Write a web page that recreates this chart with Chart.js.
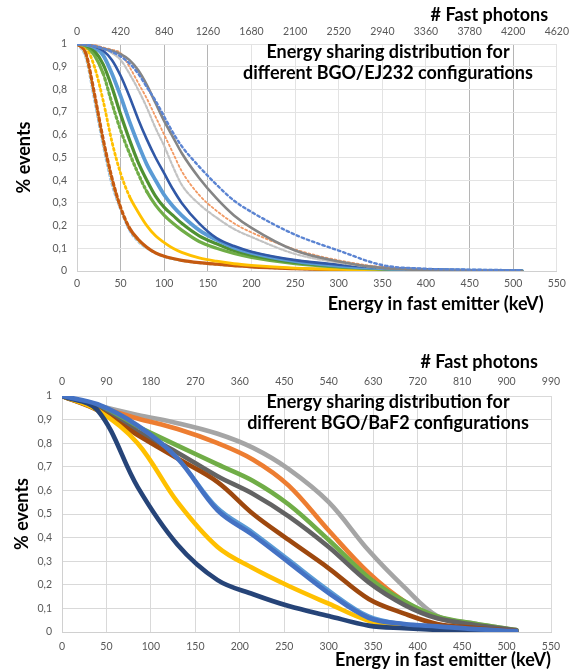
<!DOCTYPE html>
<html><head><meta charset="utf-8">
<script src="https://cdn.jsdelivr.net/npm/chart.js@4.4.1/dist/chart.umd.min.js"></script>
<style>
html,body{margin:0;padding:0;background:#fff;width:575px;height:671px;overflow:hidden;}
.box{position:absolute;left:0;width:575px;}
</style></head><body>
<div class="box" style="top:0;height:320px"><canvas id="c1"></canvas></div>
<div class="box" style="top:335px;height:336px"><canvas id="c2"></canvas></div>
<script>
// ---------- DATA: BGO/EJ232 (top chart) ----------
const ej232Title = ['Energy sharing distribution for', 'different BGO/EJ232 configurations'];
const ej232Energy = [0,10,20,30,40,50,60,70,80,90,100,110,120,140,160,180,200,250,300,350,400,450,510];
const ej232ScatterBlue   = [1,.94,.75,.55,.38,.27,.18,.13,.10,.078,.062,.052,.045,.035,.028,.022,.017,.009,.004,.002,.001,0,0];
const ej232ScatterYellow = [1,.95,.77,.57,.40,.28,.19,.135,.103,.08,.064,.054,.046,.036,.029,.023,.018,.01,.005,.002,.001,0,0];
const ej232Brown     = [1,.96,.78,.58,.41,.28,.19,.14,.105,.08,.065,.055,.047,.037,.030,.024,.018,.01,.005,.003,.001,0,0];
const ej232Yellow    = [1,.985,.90,.75,.57,.43,.33,.26,.20,.155,.125,.10,.082,.058,.043,.032,.025,.013,.007,.003,.001,0,0];
const ej232Green     = [1,.99,.95,.87,.74,.62,.52,.43,.35,.29,.245,.21,.18,.13,.10,.077,.06,.032,.017,.008,.003,.001,0];
const ej232DarkGreen = [1,.995,.97,.91,.81,.69,.58,.48,.40,.33,.28,.245,.21,.155,.12,.09,.07,.038,.02,.01,.004,.001,0];
const ej232LightBlue = [1,.997,.985,.95,.87,.77,.66,.56,.47,.40,.335,.285,.245,.18,.137,.103,.08,.043,.023,.012,.005,.002,0];
const ej232DarkBlue  = [1,.999,.99,.97,.93,.86,.77,.67,.58,.50,.43,.36,.30,.21,.145,.11,.085,.048,.028,.015,.007,.003,0];
const ej232GreyDot   = [1,.999,.995,.98,.96,.93,.87,.80,.72,.63,.55,.46,.38,.295,.235,.185,.15,.075,.037,.014,.005,.002,0];
const ej232OrangeDot = [1,.999,.995,.985,.975,.96,.90,.83,.76,.68,.60,.52,.44,.335,.265,.21,.17,.095,.047,.017,.006,.002,0];
const ej232Grey      = [1,.998,.99,.98,.97,.955,.93,.885,.82,.74,.66,.59,.52,.41,.32,.245,.19,.09,.042,.013,.004,.001,0];
const ej232BlueDot   = [1,.998,.99,.98,.965,.945,.915,.87,.81,.75,.68,.61,.55,.46,.38,.31,.26,.16,.09,.026,.01,.006,.003];

// ---------- DATA: BGO/BaF2 (bottom chart) ----------
const baf2Title = ['Energy sharing distribution for', 'different BGO/BaF2 configurations'];
const baf2Energy    = [0,40,85,130,175,215,255,300,345,385,422,465,511];
const baf2Blue      = [1,.965,.875,.735,.515,.41,.295,.165,.06,.034,.024,.012,.004];
const baf2LightBlue = [1,.965,.875,.74,.53,.425,.31,.18,.07,.036,.024,.012,.004];
const baf2Navy      = [1,.94,.615,.37,.22,.16,.11,.068,.027,.016,.009,.004,.001];
const baf2Yellow    = [1,.94,.80,.55,.36,.27,.195,.12,.048,.025,.011,.005,.002];
const baf2Brown     = [1,.94,.835,.735,.635,.50,.39,.27,.14,.078,.034,.017,.004];
const baf2DarkGrey  = [1,.945,.85,.76,.66,.585,.49,.36,.21,.115,.058,.03,.007];
const baf2Green     = [1,.955,.87,.79,.71,.64,.54,.39,.23,.13,.066,.035,.008];
const baf2Orange    = [1,.955,.905,.86,.80,.73,.62,.43,.25,.13,.06,.03,.007];
const baf2LightGrey = [1,.96,.92,.885,.84,.78,.69,.55,.345,.19,.068,.035,.008];

// ---------- TICK LABELS ----------
const yTickLabels = ['0','0,1','0,2','0,3','0,4','0,5','0,6','0,7','0,8','0,9','1'];
const energyTickLabels = ['0','50','100','150','200','250','300','350','400','450','500','550'];
const ej232PhotonTickLabels = ['0','420','840','1260','1680','2100','2520','2940','3360','3780','4200','4620'];
const baf2PhotonTickLabels = ['0','90','180','270','360','450','540','630','720','810','900','990'];
const yTitle = '% events';
const xTitle = 'Energy in fast emitter (keV)';
const x2Title = '# Fast photons';

// ---------- helpers ----------
Chart.defaults.font.family = 'Lato, "Open Sans", sans-serif';
function pts(E, V) { return E.map((e, i) => ({x: e, y: V[i]})); }
function steepDash(dash, thr) {
  return ctx => {
    const a = ctx.p0.parsed, b = ctx.p1.parsed;
    const s = Math.abs((b.y - a.y) / (b.x - a.x));
    return s > thr ? dash : undefined;
  };
}
const insideTitle = {
  id: 'insideTitle',
  afterDatasetsDraw(chart, args, o) {
    const ctx = chart.ctx;
    ctx.save();
    ctx.font = 'bold ' + o.size + 'px Lato, "Open Sans", sans-serif';
    ctx.fillStyle = '#000';
    ctx.textAlign = 'center';
    ctx.textBaseline = 'middle';
    o.lines.forEach((t, i) => ctx.fillText(t, o.x, o.y + i * o.lh));
    ctx.restore();
  }
};
const tickFont = {size: 10.5};
const tickColor = '#595959';
const titleFont = {size: 18, weight: 'bold'};

function makeOptions(L) {
  return {
    responsive: true, maintainAspectRatio: false, animation: false,
    layout: {padding: {left: 0, right: L.padRight, top: 0, bottom: 0}},
    elements: {point: {radius: 0}, line: {borderCapStyle: 'round', borderJoinStyle: 'round'}},
    plugins: {legend: {display: false}, tooltip: {enabled: false},
      insideTitle: {lines: L.title, x: L.tx, y: L.ty, lh: 21.5, size: 18}},
    scales: {
      x: {type: 'linear', position: 'bottom', min: 0, max: 550,
        ticks: {stepSize: 50, font: tickFont, color: tickColor, padding: L.xPad, maxRotation: 0,
          callback: (v, i) => energyTickLabels[i]},
        grid: {drawTicks: false, color: L.vGrid, lineWidth: 1},
        border: {color: '#d0d0d0'},
        title: {display: true, text: xTitle + L.xTitleTail, align: 'end', font: titleFont, color: '#000',
          padding: {top: 0, bottom: L.xTitlePadB}},
        afterFit: s => { s.height = L.xH; }
      },
      x2: {type: 'linear', position: 'top', min: 0, max: L.photonMax,
        ticks: {stepSize: L.photonStep, font: tickFont, color: tickColor, padding: L.x2Pad, maxRotation: 0,
          callback: (v, i) => L.photonLabels[i]},
        grid: {display: false, drawTicks: false},
        border: {display: false},
        title: {display: true, text: x2Title + L.x2TitleTail, align: 'end', font: titleFont, color: '#000',
          padding: {top: L.x2TitlePadT, bottom: 0}},
        afterFit: s => { s.height = L.x2H; }
      },
      y: {type: 'linear', min: 0, max: 1,
        ticks: {stepSize: 0.1, font: tickFont, color: tickColor, padding: 10,
          callback: (v, i) => yTickLabels[i]},
        grid: {drawTicks: false, color: L.hGrid},
        border: {color: '#d0d0d0'},
        title: {display: true, text: yTitle, font: {size: 18, weight: 'bold'}, color: '#000',
          padding: {top: L.yTitlePad, bottom: 0}},
        afterFit: s => { s.width = L.yW; }
      }
    }
  };
}

// ---------- top chart ----------
const darkV = [50, 100, 150, 450, 500];
const dsTop = [
  {data: pts(ej232Energy, ej232BlueDot), borderColor: '#5b84d2', borderWidth: 2.4, borderDash: [2.5, 3]},
  {data: pts(ej232Energy, ej232Grey), borderColor: '#858585', borderWidth: 2.6},
  {data: pts(ej232Energy, ej232OrangeDot), borderColor: '#f29a64', borderWidth: 1.8, borderDash: [2, 2.5]},
  {data: pts(ej232Energy, ej232GreyDot), borderColor: '#c3c3c3', borderWidth: 2.2, borderDash: [3, 2]},
  {data: pts(ej232Energy, ej232DarkBlue), borderColor: '#3158a6', borderWidth: 2.6},
  {data: pts(ej232Energy, ej232LightBlue), borderColor: '#5b9bd5', borderWidth: 3.8},
  {data: pts(ej232Energy, ej232DarkGreen), borderColor: '#4f9132', borderWidth: 3.2},
  {data: pts(ej232Energy, ej232Green), borderColor: '#70ad47', borderWidth: 3.2, segment: {borderDash: steepDash([2, 3], 0.008)}},
  {data: pts(ej232Energy, ej232Yellow), borderColor: '#ffc000', borderWidth: 2.8, segment: {borderDash: steepDash([2, 3], 0.008)}},
  {data: pts(ej232Energy, ej232Brown), borderColor: '#c55a11', borderWidth: 3.2, segment: {borderDash: steepDash([3, 3], 0.008)}},
  {data: pts(ej232Energy, ej232ScatterYellow), borderColor: '#ffd966', borderWidth: 2.4, borderDash: [2, 3]},
  {data: pts(ej232Energy, ej232ScatterBlue), borderColor: '#9dc3e6', borderWidth: 2.4, borderDash: [2, 3]}
].map(d => Object.assign({cubicInterpolationMode: 'monotone', fill: false}, d));

new Chart(document.getElementById('c1'), {
  type: 'line',
  data: {datasets: dsTop},
  options: makeOptions({
    padRight: 17, title: ej232Title, tx: 388, ty: 52,
    vGrid: ctx => darkV.includes(ctx.tick && ctx.tick.value) ? '#b5b5b5' : '#e3e3e3',
    hGrid: '#e3e3e3',
    xPad: 6, xTitleTail: '\u00a0\u00a0\u00a0', xTitlePadB: 5, xH: 49,
    photonMax: 4620, photonStep: 420, photonLabels: ej232PhotonTickLabels, x2Pad: 6,
    x2TitleTail: '\u00a0\u00a0', x2TitlePadT: 4, x2H: 44,
    yTitlePad: 13, yW: 77
  }),
  plugins: [insideTitle]
});

// ---------- bottom chart ----------
const dsBot = [
  {data: pts(baf2Energy, baf2Blue), borderColor: '#4472c4'},
  {data: pts(baf2Energy, baf2LightBlue), borderColor: '#5b9bd5', borderWidth: 2.5},
  {data: pts(baf2Energy, baf2Navy), borderColor: '#264478'},
  {data: pts(baf2Energy, baf2Yellow), borderColor: '#ffc000'},
  {data: pts(baf2Energy, baf2Brown), borderColor: '#9e480e'},
  {data: pts(baf2Energy, baf2DarkGrey), borderColor: '#636363'},
  {data: pts(baf2Energy, baf2Green), borderColor: '#70ad47'},
  {data: pts(baf2Energy, baf2Orange), borderColor: '#ed7d31'},
  {data: pts(baf2Energy, baf2LightGrey), borderColor: '#a5a5a5'}
].map(d => Object.assign({tension: 0.35, fill: false, borderWidth: 4.6}, d));

new Chart(document.getElementById('c2'), {
  type: 'line',
  data: {datasets: dsBot},
  options: makeOptions({
    padRight: 24, title: baf2Title, tx: 388, ty: 67,
    vGrid: '#d9d9d9', hGrid: '#d9d9d9',
    xPad: 8, xTitleTail: '', xTitlePadB: 0, xH: 39,
    photonMax: 990, photonStep: 90, photonLabels: baf2PhotonTickLabels, x2Pad: 8,
    x2TitleTail: '\u00a0\u00a0\u00a0', x2TitlePadT: 16, x2H: 61,
    yTitlePad: 11, yW: 62
  }),
  plugins: [insideTitle]
});
</script>
</body></html>
